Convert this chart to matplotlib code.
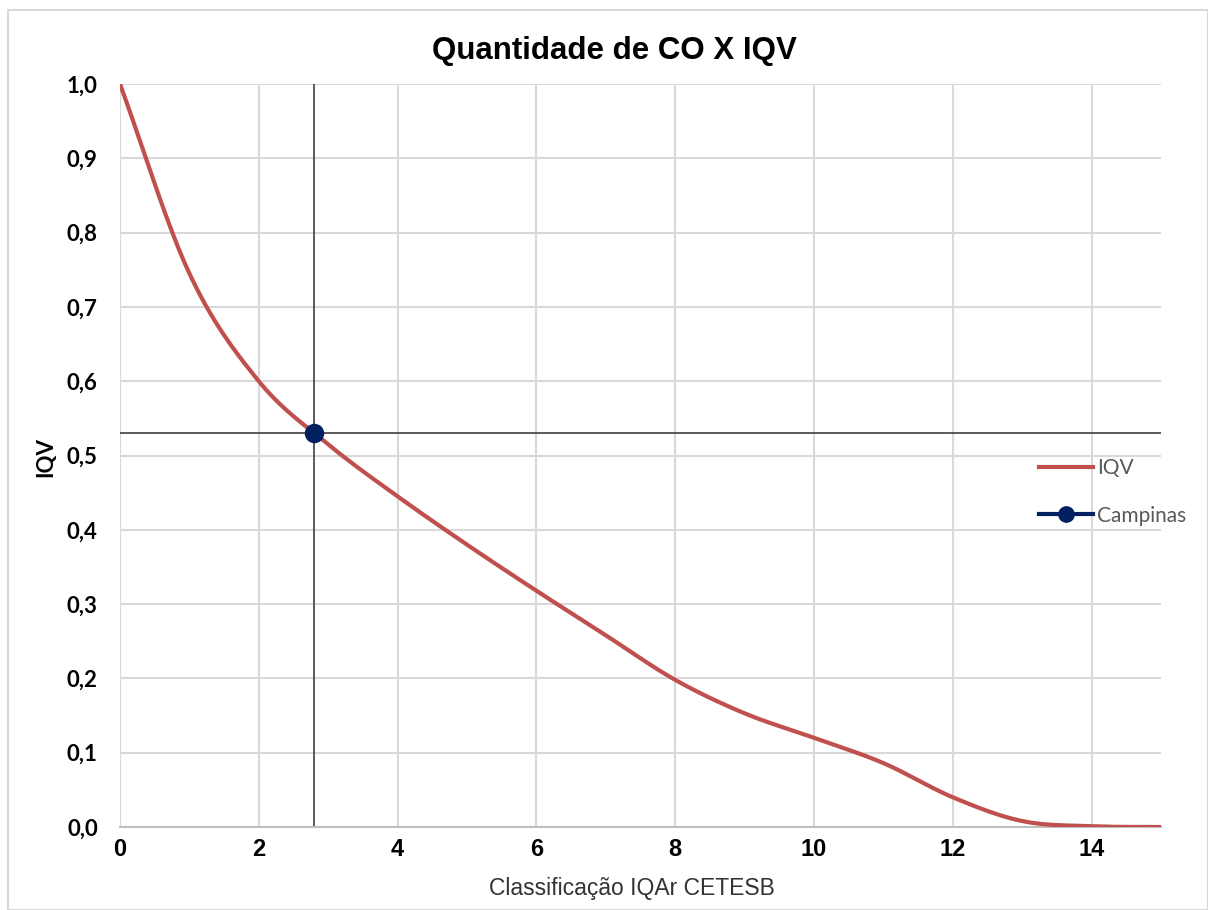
import matplotlib.pyplot as plt
from matplotlib.patches import Rectangle
from matplotlib.lines import Line2D
import numpy as np

# Curva IQV
co_x = [0, 1, 2, 3, 4, 5, 6, 7, 8, 9, 10, 11, 12, 13, 14, 15]
iqv_y = [1.0, 0.745, 0.6, 0.515, 0.445, 0.38, 0.318, 0.258, 0.198, 0.153,
         0.12, 0.086, 0.04, 0.008, 0.001, 0.0]

# Ponto de Campinas
campinas_x = 2.8
campinas_y = 0.53

x_ticks = [0, 2, 4, 6, 8, 10, 12, 14]
y_ticks = [0.0, 0.1, 0.2, 0.3, 0.4, 0.5, 0.6, 0.7, 0.8, 0.9, 1.0]

W, H = 1208, 910


def catmull_rom(xs, ys, n=30):
    # suavização parecida com a "linha suavizada" do Excel
    px = np.array(xs, dtype=float)
    py = np.array(ys, dtype=float)
    px = np.concatenate([[2 * px[0] - px[1]], px, [2 * px[-1] - px[-2]]])
    py = np.concatenate([[2 * py[0] - py[1]], py, [2 * py[-1] - py[-2]]])
    out_x, out_y = [], []
    t = np.linspace(0, 1, n, endpoint=False)
    for i in range(1, len(px) - 2):
        for p, out in ((px, out_x), (py, out_y)):
            p0, p1, p2, p3 = p[i - 1], p[i], p[i + 1], p[i + 2]
            out.extend(0.5 * ((2 * p1) + (-p0 + p2) * t
                              + (2 * p0 - 5 * p1 + 4 * p2 - p3) * t ** 2
                              + (-p0 + 3 * p1 - 3 * p2 + p3) * t ** 3))
    out_x.append(xs[-1])
    out_y.append(ys[-1])
    return np.array(out_x), np.array(out_y)


fig = plt.figure(figsize=(W / 100, H / 100), dpi=100)
fig.patches.append(Rectangle((8 / W, 0), 1 - 8 / W, 1 - 10 / H,
                             transform=fig.transFigure, fill=False,
                             edgecolor='#d9d9d9', linewidth=1.5))
ax = fig.add_axes([120 / W, 83 / H, (1161 - 120) / W, (827 - 84) / H])

ax.set_xlim(0, 15)
ax.set_ylim(0, 1.0)
ax.set_xticks(x_ticks)
ax.set_yticks(y_ticks)
ax.set_yticklabels([f"{v:.1f}".replace('.', ',') for v in y_ticks])
ax.grid(True, color='#d9d9d9', linewidth=1.5)
ax.set_axisbelow(True)
for side in ['top', 'right', 'left']:
    ax.spines[side].set_visible(False)
ax.spines['bottom'].set_color('#bfbfbf')
ax.spines['bottom'].set_linewidth(1.5)
ax.tick_params(axis='x', length=0, pad=8)
ax.tick_params(axis='y', length=0, pad=16)
for lab in ax.get_xticklabels():
    lab.set_fontfamily('Liberation Sans')
    lab.set_fontweight('bold')
    lab.set_fontsize(17)
for lab in ax.get_yticklabels():
    lab.set_fontfamily('Lato')
    lab.set_fontweight('bold')
    lab.set_fontsize(16)

sx, sy = catmull_rom(co_x, iqv_y)
ax.plot(sx, sy, color='#c0504d', linewidth=3, solid_capstyle='round', zorder=3)

# linhas de referência de Campinas
ax.axvline(campinas_x, color='#404040', linewidth=1.2, zorder=2)
ax.axhline(campinas_y, color='#404040', linewidth=1.2, zorder=2)
ax.plot([campinas_x], [campinas_y], 'o', color='#002060', markersize=13, zorder=4)

fig.text(614 / W, 1 - 51 / H, "Quantidade de CO X IQV", fontfamily='Liberation Sans',
         fontweight='bold', fontsize=22.5, ha='center', va='center')
fig.text(46 / W, 1 - 457 / H, "IQV", fontfamily='Lato', fontweight='bold', fontsize=16,
         rotation=90, ha='center', va='center')
fig.text(632 / W, 1 - 888 / H, "Classificação IQAr CETESB", fontfamily='Liberation Sans',
         fontsize=16.5, color='#333333', ha='center', va='center')

handles = [Line2D([], [], color='#c0504d', linewidth=3),
           Line2D([], [], color='#002060', linewidth=3, marker='o', markersize=11)]
leg = fig.legend(handles, ["IQV", "Campinas"], loc='center left',
                 bbox_to_anchor=(1020 / W, 1 - 492 / H), frameon=False,
                 handlelength=2.6, handletextpad=0.2, labelspacing=1.3,
                 prop={'family': 'Lato', 'size': 15})
for t in leg.get_texts():
    t.set_color('#595959')

plt.savefig('out.png', dpi=100)
